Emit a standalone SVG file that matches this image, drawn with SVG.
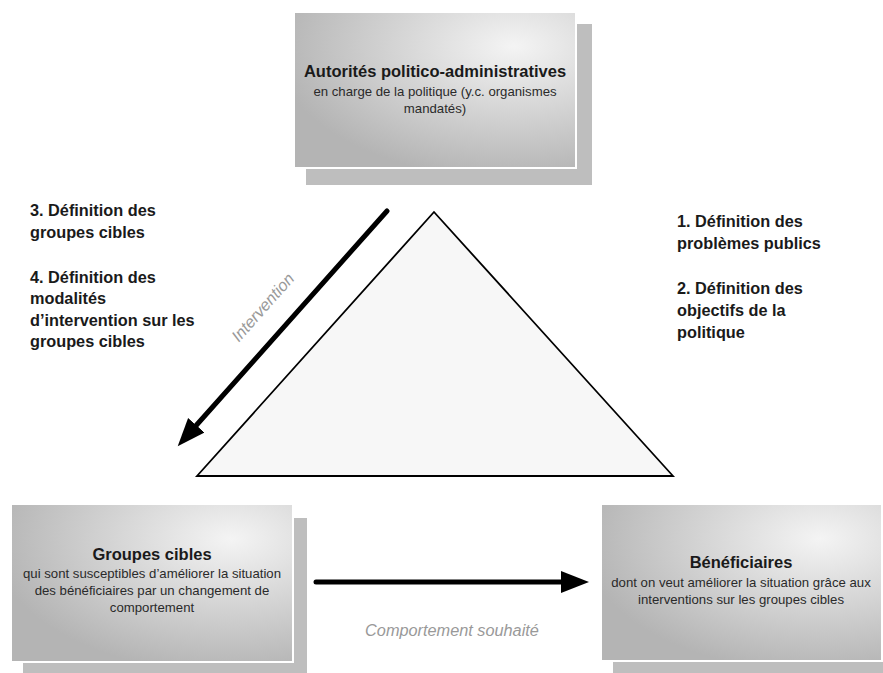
<svg xmlns="http://www.w3.org/2000/svg" width="883" height="673" viewBox="0 0 883 673">
<defs>
<radialGradient id="boxg" cx="0.78" cy="0.22" r="0.85" fx="0.78" fy="0.22">
<stop offset="0" stop-color="#f4f4f4"/>
<stop offset="1" stop-color="#b4b4b4"/>
</radialGradient>
<marker id="ah" markerWidth="6" markerHeight="6" refX="1" refY="3" orient="auto" markerUnits="strokeWidth" viewBox="0 0 6 6">
<path d="M0,0.8 L5.6,3 L0,5.2 Z" fill="#000"/>
</marker>
</defs>
<style>
.shadow{fill:#bebebe}
.box{fill:url(#boxg);stroke:#fff;stroke-width:2}
.title{font-family:"Liberation Sans",Arial,sans-serif;font-weight:bold;font-size:16.5px;fill:#1a1a1a;text-anchor:middle}
.sub{font-family:"Liberation Sans",Arial,sans-serif;font-size:13.2px;fill:#2a2a2a;text-anchor:middle}
.side{font-family:"Liberation Sans",Arial,sans-serif;font-weight:bold;font-size:16.3px;fill:#1a1a1a}
.lbl{font-family:"Liberation Sans",Arial,sans-serif;font-style:italic;font-size:16.3px;fill:#999;text-anchor:middle}
.arrow{stroke:#000;stroke-width:5;stroke-linecap:round;fill:none;marker-end:url(#ah)}
</style>
<rect width="883" height="673" fill="#fff"/>

<g id="triangle">
<polygon points="434,212 673,476 197,476" fill="#f7f7f7" stroke="#000" stroke-width="1.8" stroke-linejoin="miter"/>
</g>

<g id="autorites">
<rect class="shadow" x="306" y="24" width="286" height="161"/>
<rect class="box" x="294" y="12" width="282" height="156"/>
<text class="title" x="435" y="77">Autorités politico-administratives</text>
<text class="sub" x="435" y="96">en charge de la politique (y.c. organismes</text>
<text class="sub" x="435" y="113">mandatés)</text>
</g>

<g id="groupes">
<rect class="shadow" x="23" y="518" width="284" height="155"/>
<rect class="box" x="11" y="504" width="282" height="158"/>
<text class="title" x="152" y="560">Groupes cibles</text>
<text class="sub" x="152" y="578">qui sont susceptibles d’améliorer la situation</text>
<text class="sub" x="152" y="595">des bénéficiaires par un changement de</text>
<text class="sub" x="152" y="612">comportement</text>
</g>

<g id="beneficiaires">
<rect class="shadow" x="613" y="518" width="270" height="155"/>
<rect class="box" x="601" y="504" width="281" height="157"/>
<text class="title" x="741" y="568">Bénéficiaires</text>
<text class="sub" x="741" y="587">dont on veut améliorer la situation grâce aux</text>
<text class="sub" x="741" y="604">interventions sur les groupes cibles</text>
</g>

<g id="texte-gauche">
<text class="side" x="30" y="216">3. Définition des</text>
<text class="side" x="30" y="238">groupes cibles</text>
<text class="side" x="30" y="283">4. Définition des</text>
<text class="side" x="30" y="304">modalités</text>
<text class="side" x="30" y="326">d’intervention sur les</text>
<text class="side" x="30" y="347">groupes cibles</text>
</g>

<g id="texte-droite">
<text class="side" x="677" y="227">1. Définition des</text>
<text class="side" x="677" y="249">problèmes publics</text>
<text class="side" x="677" y="294">2. Définition des</text>
<text class="side" x="677" y="316">objectifs de la</text>
<text class="side" x="677" y="338">politique</text>
</g>

<g id="connectors">
<line class="arrow" x1="387" y1="211" x2="193" y2="429"/>
<line class="arrow" x1="316" y1="582" x2="566" y2="582"/>
<text class="lbl" transform="translate(267,311) rotate(-48.5)">Intervention</text>
<text class="lbl" x="452" y="636">Comportement souhaité</text>
</g>
</svg>
